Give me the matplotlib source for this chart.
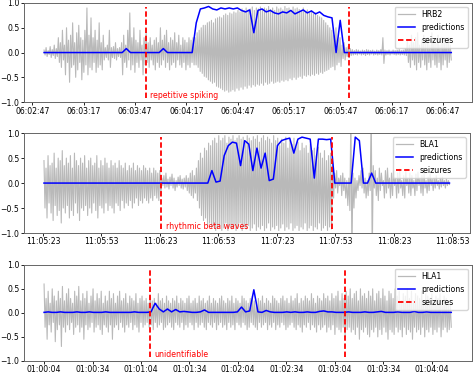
import numpy as np
import pandas as pd
import matplotlib
matplotlib.use("Agg")
import matplotlib.pyplot as plt
import matplotlib.dates as mdates

# ---- HRB2 (panel 1) ----
hrb2_start = "2020-01-01 06:02:53.8"
hrb2_span = 238.0  # seconds
# upper / lower peak of the trace in 200 consecutive time bins
hrb2_hi = [0.05, 0.10, 0.04, 0.12, 0.06, 0.15, 0.08, 0.30,
           0.20, 0.45, 0.15, 0.50, 0.25, 0.35, 0.60, 0.20, 0.40, 0.55, 0.30,
           0.25, 0.45, 0.90, 0.35, 0.70, 0.30, 0.45, 0.25, 0.60, 0.20, 0.35,
           0.10, 0.15, 0.45, 0.10, 0.12, 0.20, 0.08, 0.10,
           0.20, 0.35, 0.15, 0.45, 0.80, 0.30, 0.50, 0.25, 0.20, 0.45, 0.15, 0.30,
           0.40, 0.20, 0.30, 0.15, 0.25, 0.30, 0.20, 0.50, 0.25, 0.35, 0.45, 0.20,
           0.30, 0.25, 0.40, 0.20, 0.35, 0.15, 0.30, 0.25, 0.20, 0.30, 0.25, 0.30,
           0.30, 0.40, 0.45, 0.50, 0.55, 0.55, 0.60, 0.62, 0.65, 0.60,
           0.68, 0.70, 0.72, 0.70, 0.75, 0.78, 0.75, 0.80, 0.78, 0.82,
           0.80, 0.85, 0.82, 0.88, 0.85, 0.90, 0.86, 0.88, 0.92, 0.85,
           0.90, 0.88, 0.92, 0.86, 0.90, 0.88, 0.93, 0.87, 0.90, 0.85,
           0.92, 0.88, 0.90, 0.86, 0.93, 0.89, 0.90, 0.85, 0.92, 0.88,
           0.90, 0.87, 0.85, 0.90, 0.82, 0.86, 0.80, 0.84, 0.78, 0.80,
           0.75, 0.72, 0.70, 0.65, 0.60, 0.55, 0.50, 0.45,
           0.35, 0.50, 0.25, 0.30, 0.15, 0.20, 0.10, 0.12, 0.08, 0.06,
           0.04, 0.06, 0.05, 0.03, 0.05, 0.04, 0.06, 0.05, 0.04, 0.05, 0.03, 0.05, 0.04, 0.06,
           0.30, 0.05,
           0.04, 0.05, 0.03, 0.05, 0.04, 0.05, 0.06, 0.04, 0.05, 0.08,
           0.25, 0.15, 0.35, 0.20, 0.30, 0.40, 0.15, 0.25, 0.35, 0.20, 0.30,
           0.15, 0.40, 0.25, 0.20, 0.35, 0.15, 0.30, 0.25, 0.20, 0.30, 0.15]
hrb2_lo = [-0.05, -0.08, -0.04, -0.10, -0.06, -0.12, -0.08, -0.20,
           -0.30, -0.15, -0.45, -0.20, -0.60, -0.30, -0.25, -0.50, -0.35, -0.20, -0.55,
           -0.40, -0.25, -0.45, -0.30, -0.35, -0.20, -0.40, -0.30, -0.25, -0.35, -0.15,
           -0.10, -0.15, -0.30, -0.10, -0.12, -0.15, -0.08, -0.10,
           -0.45, -0.20, -0.30, -0.15, -0.35, -0.25, -0.40, -0.20, -0.30, -0.15, -0.45, -0.25,
           -0.20, -0.30, -0.15, -0.25, -0.35, -0.20, -0.30, -0.25, -0.15, -0.30, -0.20, -0.35,
           -0.25, -0.20, -0.30, -0.15, -0.25, -0.30, -0.20, -0.35, -0.25, -0.30, -0.20, -0.25,
           -0.25, -0.30, -0.38, -0.42, -0.48, -0.50, -0.55, -0.58, -0.62, -0.60,
           -0.68, -0.70, -0.72, -0.75, -0.78, -0.76, -0.80, -0.78, -0.75, -0.78,
           -0.72, -0.76, -0.70, -0.74, -0.68, -0.72, -0.66, -0.70, -0.65, -0.68,
           -0.64, -0.66, -0.62, -0.66, -0.60, -0.64, -0.62, -0.58, -0.62, -0.60,
           -0.58, -0.60, -0.56, -0.58, -0.55, -0.57, -0.52, -0.55, -0.50, -0.54,
           -0.50, -0.48, -0.52, -0.46, -0.48, -0.45, -0.47, -0.44, -0.46, -0.42,
           -0.44, -0.40, -0.42, -0.38, -0.36, -0.34, -0.30, -0.28,
           -0.35, -0.25, -0.20, -0.28, -0.12, -0.15, -0.08, -0.10, -0.06, -0.05,
           -0.04, -0.05, -0.03, -0.05, -0.04, -0.06, -0.04, -0.05, -0.03, -0.05, -0.04, -0.05, -0.04, -0.05,
           -0.22, -0.05,
           -0.04, -0.05, -0.03, -0.04, -0.05, -0.04, -0.05, -0.04, -0.05, -0.06,
           -0.20, -0.30, -0.15, -0.25, -0.35, -0.20, -0.30, -0.15, -0.25, -0.35, -0.20,
           -0.30, -0.15, -0.25, -0.30, -0.20, -0.35, -0.25, -0.15, -0.30, -0.20, -0.15]
hrb2_pred = [0.0] * 20 + [0.08] + [0.0] * 8 + [0.08] + [0.0] * 7 + \
            [0.60, 0.88, 0.90, 0.93, 0.88, 0.86, 0.90, 0.88, 0.90, 0.88,
             0.90, 0.85, 0.82, 0.86, 0.40, 0.85, 0.88, 0.82, 0.85, 0.80,
             0.78, 0.82, 0.80, 0.85, 0.78, 0.82, 0.86, 0.80, 0.84, 0.78,
             0.82, 0.75, 0.72, 0.70, 0.0, 0.65] + [0.0] * 27
hrb2_seizures = ["2020-01-01 06:03:53.2", "2020-01-01 06:05:51.9"]
hrb2_note = "repetitive spiking"

# ---- BLA1 (panel 2) ----
bla1_start = "2020-01-01 11:05:23.5"
bla1_span = 208.0
bla1_hi = [0.45, 0.30, 0.55, 0.35, 0.40, 0.60, 0.30, 0.50, 0.45, 0.65,
           0.35, 0.50, 0.40, 0.55, 0.30, 0.60, 0.45, 0.35, 0.50, 0.40,
           0.55, 0.30, 0.45, 0.50, 0.35, 0.40, 0.55, 0.30, 0.45, 0.35,
           0.50, 0.40, 0.30, 0.45, 0.35, 0.40, 0.30, 0.45, 0.35, 0.30,
           0.40, 0.25, 0.35, 0.30, 0.40, 0.25, 0.35, 0.30, 0.25, 0.35,
           0.30, 0.25, 0.30, 0.20, 0.30, 0.25, 0.20, 0.25,
           0.10, 0.15, 0.20, 0.08, 0.12, 0.18, 0.10, 0.05, 0.12,
           0.15, 0.08, 0.10, 0.15, 0.10, 0.20, 0.25, 0.15, 0.30,
           0.45, 0.60, 0.50, 0.70, 0.65, 0.80, 0.75, 0.85, 0.90, 0.80,
           0.95, 0.85, 0.90, 0.95, 0.80, 0.92, 0.88, 0.95, 0.85, 0.90,
           0.95, 0.88, 0.92, 0.80, 0.95, 0.90, 0.85, 0.93, 0.88, 0.95,
           0.82, 0.90, 0.95, 0.85, 0.92, 0.88, 0.80, 0.95, 0.85, 0.90,
           0.75, 0.88, 0.80, 0.92, 0.70, 0.85, 0.78, 0.90, 0.72, 0.82,
           0.65, 0.80, 0.70, 0.75, 0.60, 0.78, 0.65, 0.70, 0.55, 0.72,
           0.60, 0.50, 0.65, 0.45, 0.55, 0.60,
           0.40, 0.20, 0.25, 0.10, 0.15, 0.20, 0.10, 0.05, 0.10, 1.50,
           0.20, 0.10, 0.05, 0.15, 0.25, 0.30, 0.10, 0.05, 0.20, 1.50,
           0.35, 0.25, 0.10, 0.30, 0.20, 0.05, 0.25, 0.30, 0.10, 0.20,
           0.25, 0.10, 0.20, 0.28, 0.05, 0.15, 0.25, 0.10, 0.20, 0.15,
           0.05, 0.18, 0.22, 0.10, 0.15, 0.20, 0.05, 0.12, 0.18, 0.08,
           0.10, 0.15, 0.05, 0.10, 0.12, 0.05, 0.08, 0.05]
bla1_lo = [-0.50, -0.70, -0.40, -0.60, -0.75, -0.45, -0.65, -0.55, -0.80, -0.50,
           -0.60, -0.45, -0.70, -0.55, -0.65, -0.40, -0.60, -0.75, -0.50, -0.55,
           -0.45, -0.65, -0.50, -0.60, -0.40, -0.55, -0.70, -0.45, -0.50, -0.60,
           -0.40, -0.55, -0.45, -0.50, -0.60, -0.40, -0.45, -0.55, -0.35, -0.50,
           -0.40, -0.45, -0.35, -0.50, -0.40, -0.30, -0.45, -0.35, -0.40, -0.30,
           -0.35, -0.40, -0.30, -0.35, -0.25, -0.30, -0.35, -0.25,
           -0.05, -0.10, -0.08, -0.12, -0.05, -0.10, -0.15, -0.08, -0.05,
           -0.10, -0.12, -0.08, -0.15, -0.20, -0.25, -0.30, -0.20, -0.35,
           -0.50, -0.65, -0.75, -0.70, -0.85, -0.80, -0.90, -0.85, -0.95, -0.90,
           -0.85, -0.95, -0.90, -0.80, -0.95, -0.88, -0.92, -0.85, -0.95, -0.90,
           -0.80, -0.95, -0.88, -0.92, -0.85, -0.95, -0.90, -0.82, -0.95, -0.88,
           -0.92, -0.85, -0.95, -0.90, -0.80, -0.95, -0.88, -0.92, -0.85, -0.95,
           -0.90, -0.82, -0.95, -0.88, -0.92, -0.80, -0.95, -0.90, -0.85, -0.95,
           -0.88, -0.92, -0.80, -0.95, -0.90, -0.85, -0.95, -0.88, -0.92, -0.80,
           -0.95, -0.90, -0.85, -0.95, -0.88, -0.92,
           -0.30, -0.10, -0.20, -0.05, -0.25, -0.15, -0.30, -0.45, -0.55, -1.50,
           -0.50, -0.30, -0.15, -0.05, -0.10, -0.20, -0.30, -0.25, -0.15, -1.50,
           -0.10, -0.25, -0.35, -0.15, -0.05, -0.30, -0.20, -0.10, -0.30, -0.25,
           -0.05, -0.30, -0.20, -0.10, -0.25, -0.30, -0.05, -0.20, -0.25, -0.10,
           -0.25, -0.15, -0.05, -0.20, -0.25, -0.10, -0.20, -0.15, -0.05, -0.15,
           -0.10, -0.05, -0.12, -0.08, -0.05, -0.10, -0.05, -0.03]
bla1_pred = [0.0] * 41 + \
            [0.25, 0.02, 0.04, 0.55, 0.75, 0.82, 0.80, 0.35, 0.85, 0.78,
             0.25, 0.70, 0.30, 0.60, 0.05, 0.08, 0.75, 0.85, 0.88, 0.90,
             0.60, 0.88, 0.92, 0.90, 0.88, 0.10, 0.88, 0.88, 0.87, 0.88,
             0.0, 0.0, 0.0, 0.0, 0.0, 0.92, 0.85, 0.0, 0.0, 0.20] + [0.0] * 19
bla1_seizures = ["2020-01-01 11:06:23.3", "2020-01-01 11:07:51.0"]
bla1_note = "rhythmic beta waves"

# ---- HLA1 (panel 3) ----
hla1_start = "2020-01-01 01:00:04.0"
hla1_span = 252.0
hla1_hi = [0.60, 0.30, 0.45, 0.20, 0.50, 0.35, 0.25, 0.45, 0.30, 0.55,
           0.25, 0.40, 0.50, 0.30, 0.20, 0.45, 0.35, 0.55, 0.25, 0.40,
           0.30, 0.45, 0.20, 0.35, 0.50, 0.25, 0.40, 0.30, 0.45, 0.20,
           0.35, 0.25, 0.45, 0.30, 0.40, 0.20, 0.35, 0.45, 0.25, 0.30,
           0.40, 0.20, 0.35, 0.30, 0.25, 0.40, 0.20, 0.30, 0.35, 0.25,
           0.30, 0.20, 0.35, 0.25, 0.30, 0.20, 0.40, 0.25, 0.30, 0.20,
           0.35, 0.25, 0.20, 0.30, 0.25, 0.35, 0.20, 0.30, 0.25, 0.20,
           0.30, 0.35, 0.20, 0.25, 0.30, 0.20, 0.35, 0.25, 0.30, 0.20,
           0.25, 0.35, 0.20, 0.30, 0.25, 0.20, 0.30, 0.35, 0.25, 0.20,
           0.30, 0.25, 0.35, 0.20, 0.30, 0.25, 0.20, 0.35, 0.30, 0.25,
           0.20, 0.30, 0.35, 0.25, 0.20, 0.30, 0.25, 0.35, 0.20, 0.30,
           0.25, 0.20, 0.35, 0.30, 0.25, 0.20, 0.30, 0.35, 0.25, 0.30,
           0.20, 0.35, 0.25, 0.30, 0.40, 0.20, 0.30, 0.25, 0.35, 0.30,
           0.25, 0.40, 0.30, 0.20, 0.35, 0.30, 0.25, 0.40, 0.30, 0.35,
           0.25, 0.40, 0.30, 0.35, 0.45, 0.25, 0.40, 0.30, 0.45, 0.35,
           0.50, 0.30, 0.40, 0.45, 0.25, 0.50, 0.35, 0.40, 0.30, 0.45,
           0.35, 0.50, 0.25, 0.40, 0.45, 0.30, 0.50, 0.35, 0.25, 0.45,
           0.40, 0.30, 0.50, 0.35, 0.45, 0.25, 0.40, 0.35, 0.50, 0.30,
           0.45, 0.25, 0.40, 0.35, 0.30, 0.45, 0.25, 0.40, 0.35, 0.30,
           0.40, 0.25, 0.35, 0.30, 0.40, 0.20, 0.35, 0.30, 0.25, 0.20]
hla1_lo = [-0.30, -0.55, -0.25, -0.40, -0.20, -0.60, -0.35, -0.25, -0.70, -0.30,
           -0.40, -0.25, -0.35, -0.20, -0.45, -0.30, -0.25, -0.40, -0.30, -0.55,
           -0.25, -0.35, -0.30, -0.20, -0.40, -0.30, -0.25, -0.35, -0.45, -0.25,
           -0.30, -0.40, -0.25, -0.55, -0.30, -0.25, -0.35, -0.20, -0.30, -0.40,
           -0.25, -0.30, -0.20, -0.35, -0.25, -0.30, -0.40, -0.20, -0.30, -0.25,
           -0.20, -0.30, -0.25, -0.35, -0.20, -0.30, -0.25, -0.20, -0.35, -0.30,
           -0.25, -0.20, -0.30, -0.35, -0.20, -0.25, -0.30, -0.20, -0.35, -0.25,
           -0.30, -0.20, -0.25, -0.35, -0.20, -0.30, -0.25, -0.20, -0.30, -0.35,
           -0.20, -0.25, -0.30, -0.20, -0.35, -0.25, -0.20, -0.30, -0.25, -0.35,
           -0.20, -0.30, -0.25, -0.35, -0.20, -0.25, -0.30, -0.20, -0.25, -0.35,
           -0.30, -0.20, -0.25, -0.30, -0.35, -0.20, -0.30, -0.25, -0.20, -0.35,
           -0.25, -0.30, -0.20, -0.35, -0.25, -0.30, -0.20, -0.25, -0.35, -0.30,
           -0.25, -0.20, -0.30, -0.35, -0.25, -0.30, -0.40, -0.25, -0.30, -0.20,
           -0.35, -0.25, -0.30, -0.40, -0.25, -0.35, -0.30, -0.25, -0.40, -0.30,
           -0.35, -0.25, -0.45, -0.30, -0.35, -0.40, -0.30, -0.50, -0.35, -0.30,
           -0.40, -0.35, -0.45, -0.30, -0.55, -0.35, -0.40, -0.30, -0.45, -0.50,
           -0.35, -0.40, -0.30, -0.50, -0.35, -0.45, -0.30, -0.40, -0.55, -0.35,
           -0.40, -0.45, -0.30, -0.40, -0.35, -0.50, -0.30, -0.45, -0.35, -0.40,
           -0.55, -0.30, -0.40, -0.35, -0.45, -0.30, -0.50, -0.35, -0.40, -0.30,
           -0.45, -0.35, -0.40, -0.30, -0.50, -0.35, -0.30, -0.40, -0.35, -0.30]
hla1_pred = [0.01, 0.02, 0.01, 0.01, 0.02, 0.01, 0.01, 0.01, 0.02, 0.01,
             0.01, 0.02, 0.01, 0.01, 0.01, 0.02, 0.01, 0.01, 0.01, 0.01,
             0.01, 0.01, 0.02, 0.01, 0.01, 0.01, 0.02, 0.20, 0.08, 0.02,
             0.08, 0.02, 0.07, 0.02, 0.03, 0.02, 0.01, 0.01, 0.02, 0.06,
             0.01, 0.01, 0.01, 0.01, 0.01, 0.01, 0.01, 0.02, 0.12, 0.02,
             0.04, 0.48, 0.02, 0.01, 0.05, 0.02, 0.01, 0.01, 0.01, 0.02,
             0.01, 0.02, 0.01, 0.01, 0.02, 0.01, 0.01, 0.03, 0.04, 0.02,
             0.02, 0.01, 0.01, 0.01, 0.02, 0.01, 0.01, 0.01, 0.02, 0.01,
             0.01, 0.02, 0.03, 0.01, 0.01, 0.01, 0.02, 0.01, 0.01, 0.01,
             0.03, 0.01, 0.01, 0.02, 0.01, 0.01, 0.01, 0.01, 0.01, 0.01]
hla1_seizures = ["2020-01-01 01:01:09.6", "2020-01-01 01:03:10.3"]
hla1_note = "unidentifiable"

panels = [
    ("HRB2", hrb2_start, hrb2_span, hrb2_hi, hrb2_lo, hrb2_pred, hrb2_seizures, hrb2_note, [17, 47]),
    ("BLA1", bla1_start, bla1_span, bla1_hi, bla1_lo, bla1_pred, bla1_seizures, bla1_note, [23, 53]),
    ("HLA1", hla1_start, hla1_span, hla1_hi, hla1_lo, hla1_pred, hla1_seizures, hla1_note, [4, 34]),
]
# axes rectangles in figure fractions
boxes = [[0.050, 0.727, 0.945, 0.265],
         [0.050, 0.377, 0.941, 0.267],
         [0.050, 0.035, 0.945, 0.257]]

fs = 5.6
fig = plt.figure(figsize=(4.74, 3.74), dpi=100)

for (name, start, span, hi, lo, pred, seiz, note, secs), box in zip(panels, boxes):
    ax = fig.add_axes(box)
    t0 = pd.Timestamp(start)
    # signal: upper and lower peaks of each bin, one after the other
    sig = np.ravel(np.column_stack([hi, lo]))
    t_sig = t0 + pd.to_timedelta(np.linspace(0, span, len(sig)), unit="s")
    t_pred = t0 + pd.to_timedelta(np.linspace(0, span, len(pred)), unit="s")

    ax.plot(t_sig, sig, color="gray", alpha=0.55, linewidth=0.8, label=name)
    ax.plot(t_pred, pred, color="blue", linewidth=1.1, label="predictions")
    for k, s in enumerate(seiz):
        ax.axvline(pd.Timestamp(s), ymin=0.04, ymax=0.96, color="red",
                   linestyle=(0, (3, 1.5)), linewidth=1.3,
                   label="seizures" if k == 0 else None)
    ax.text(pd.Timestamp(seiz[0]) + pd.Timedelta(seconds=2.8), -0.87, note,
            color="red", fontsize=fs, va="center")

    ax.set_ylim(-1, 1)
    ax.set_yticks([-1.0, -0.5, 0.0, 0.5, 1.0])
    ax.xaxis.set_major_locator(mdates.SecondLocator(bysecond=secs))
    ax.xaxis.set_major_formatter(mdates.DateFormatter("%H:%M:%S"))
    ax.tick_params(labelsize=fs, length=2, width=0.6, pad=1.2)
    for sp in ax.spines.values():
        sp.set_linewidth(0.7)
        sp.set_color("#666666")
    leg = ax.legend(loc="upper right", fontsize=fs, handlelength=2.2)
    leg.get_lines()[0].set_linewidth(0.9)

fig.savefig("out.png", dpi=100)
